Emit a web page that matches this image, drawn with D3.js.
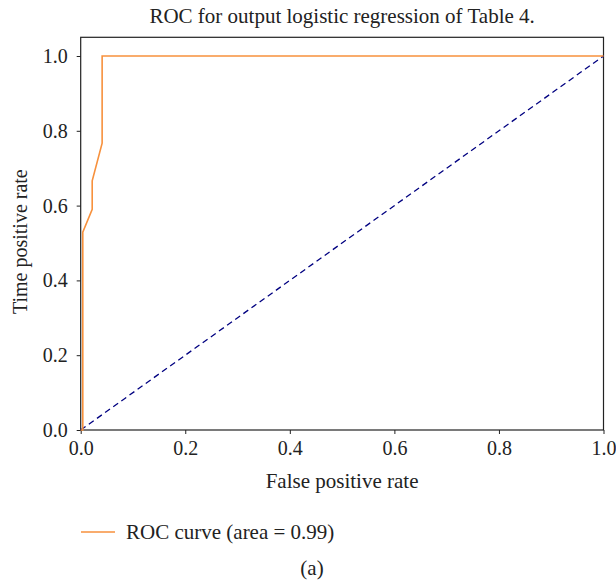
<!DOCTYPE html>
<html>
<head>
<meta charset="utf-8">
<script src="https://cdn.jsdelivr.net/npm/d3@7"></script>
<style>
  body { margin: 0; background: #fff; }
  svg text { font-family: "Liberation Serif", "DejaVu Serif", serif; fill: #222; }
</style>
</head>
<body>
<div class="svg-wrapper"></div>
<script>
// ROC data
var fpr = [0, 0.004, 0.004, 0.022, 0.022, 0.041, 0.041, 1.0];
var tpr = [0, 0, 0.529, 0.590, 0.666, 0.767, 1.0, 1.0];
var chanceX = [0, 1];
var chanceY = [0, 1];
var xTicks = [0, 0.2, 0.4, 0.6, 0.8, 1.0];
var yTicks = [0, 0.2, 0.4, 0.6, 0.8, 1.0];
var titleText = "ROC for output logistic regression of Table 4.";
var xLabel = "False positive rate";
var yLabel = "Time positive rate";
var legendText = "ROC curve (area = 0.99)";
var panelText = "(a)";

var W = 616, H = 582,
    margin = {top: 37.3, right: 12.5, bottom: 152, left: 80.7},
    width  = W - margin.left - margin.right,
    height = H - margin.top - margin.bottom;

var svg = d3.select(".svg-wrapper").append("svg")
  .attr("width", W)
  .attr("height", H);

var g = svg.append("g")
  .attr("transform", "translate(" + margin.left + "," + margin.top + ")");

var x = d3.scaleLinear().domain([0, 1]).range([0, width]),
    y = d3.scaleLinear().domain([0, 1.05]).range([height, 0]);

var xAxis = d3.axisBottom(x).tickValues(xTicks).tickFormat(d3.format(".1f")).tickSize(4).tickPadding(7),
    yAxis = d3.axisLeft(y).tickValues(yTicks).tickFormat(d3.format(".1f")).tickSize(4).tickPadding(9);

var gx = g.append("g").attr("transform", "translate(0," + height + ")").call(xAxis);
var gy = g.append("g").call(yAxis);
[gx, gy].forEach(function (a) {
  a.select(".domain").remove();
  a.selectAll("line").attr("stroke", "#222").attr("stroke-width", 1);
  a.selectAll("text").style("font-size", "20px").attr("fill", "#222");
});

// frame
g.append("rect")
  .attr("x", 0).attr("y", 0)
  .attr("width", width).attr("height", height)
  .attr("fill", "none")
  .attr("stroke", "#222")
  .attr("stroke-width", 1.2);

var line = d3.line()
  .x(function (d) { return x(d[0]); })
  .y(function (d) { return y(d[1]); });

g.append("path")
  .datum(d3.zip(chanceX, chanceY))
  .attr("d", line)
  .attr("fill", "none")
  .attr("stroke", "#000080")
  .attr("stroke-width", 1.3)
  .attr("stroke-dasharray", "6,4");

g.append("path")
  .datum(d3.zip(fpr, tpr))
  .attr("d", line)
  .attr("fill", "none")
  .attr("stroke", "#f7913d")
  .attr("stroke-width", 1.6);

// title and axis labels
svg.append("text")
  .attr("x", margin.left + width / 2)
  .attr("y", 23)
  .attr("text-anchor", "middle")
  .style("font-size", "21px")
  .text(titleText);

svg.append("text")
  .attr("x", margin.left + width / 2)
  .attr("y", 488)
  .attr("text-anchor", "middle")
  .style("font-size", "21px")
  .text(xLabel);

svg.append("text")
  .attr("transform", "translate(27," + (margin.top + height / 2 + 8) + ") rotate(-90)")
  .attr("text-anchor", "middle")
  .style("font-size", "20px")
  .text(yLabel);

// legend
var legend = svg.append("g");
legend.append("line")
  .attr("x1", 81).attr("x2", 115)
  .attr("y1", 532).attr("y2", 532)
  .attr("stroke", "#f7913d")
  .attr("stroke-width", 1.3);
legend.append("text")
  .attr("x", 126).attr("y", 539)
  .style("font-size", "21px")
  .text(legendText);

svg.append("text")
  .attr("x", 312).attr("y", 575)
  .attr("text-anchor", "middle")
  .style("font-size", "21px")
  .text(panelText);
</script>
</body>
</html>
